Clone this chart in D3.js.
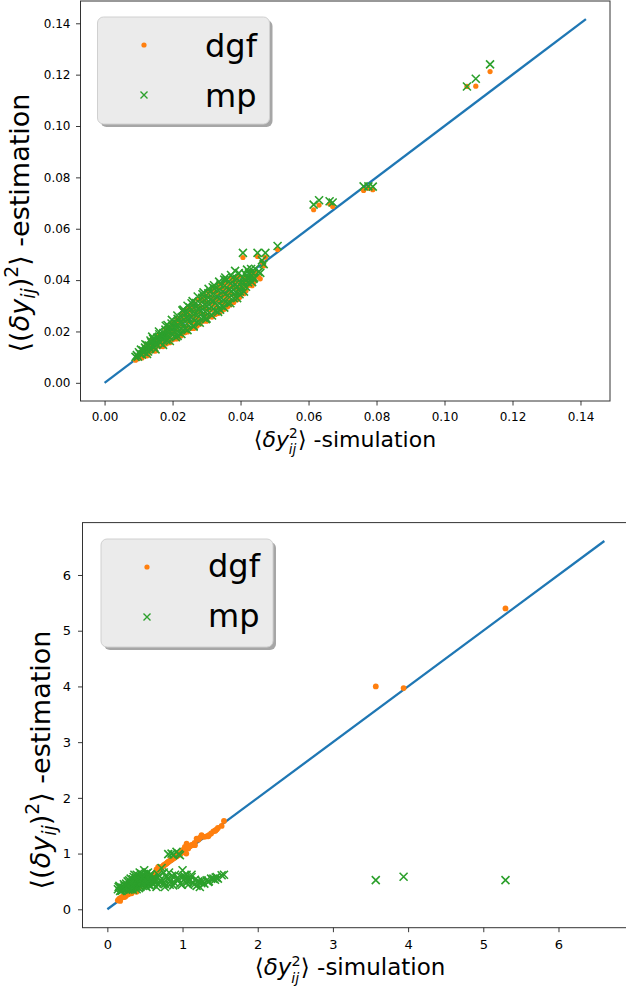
<!DOCTYPE html>
<html><head><meta charset="utf-8">
<script src="https://cdn.jsdelivr.net/npm/d3@7"></script>
<style>
body{margin:0;background:#fff}
svg{display:block}
text{font-family:"DejaVu Sans",sans-serif;fill:#000}
</style>
</head><body>
<svg id="c" width="626" height="987"></svg>
<script>
// ---------- top panel data (simulation, dgf estimate, mp estimate) ----------
const topSim = [
 0.0091,0.0095,0.0098,0.0101,0.0104,0.0107, 0.0110,0.0113,0.0116,0.0119,0.0122,0.0125,
 0.0128,0.0131,0.0134,0.0137,0.0140,0.0143, 0.0146,0.0149,0.0152,0.0155,0.0158,0.0161,
 0.0164,0.0167,0.0170,0.0173,0.0176,0.0179, 0.0182,0.0185,0.0188,0.0191,0.0194,0.0197,
 0.0200,0.0203,0.0206,0.0209,0.0212,0.0215, 0.0218,0.0221,0.0224,0.0227,0.0230,0.0233,
 0.0236,0.0239,0.0242,0.0245,0.0248,0.0251, 0.0254,0.0257,0.0260,0.0263,0.0266,0.0269,
 0.0272,0.0275,0.0278,0.0281,0.0284,0.0287, 0.0290,0.0293,0.0296,0.0299,0.0302,0.0305,
 0.0308,0.0311,0.0314,0.0317,0.0320,0.0323, 0.0326,0.0329,0.0332,0.0335,0.0338,0.0341,
 0.0344,0.0347,0.0350,0.0353,0.0356,0.0359, 0.0362,0.0365,0.0368,0.0371,0.0374,0.0377,
 0.0380,0.0383,0.0386,0.0389,0.0392,0.0395, 0.0398,0.0401,0.0404,0.0407,0.0410,0.0413,
 0.0416,0.0419,0.0422,0.0425,0.0428,0.0431, 0.0434,0.0437,0.0440,0.0443,
 0.0120,0.0140,0.0160,0.0180,0.0198,0.0214,0.0229,0.0244,0.0259,0.0274,0.0291,0.0306,0.0322,0.0337,0.0355,0.0372,
 0.0125,0.0150,0.0172,0.0192,0.0210,0.0226,0.0244,0.0262,0.0280,0.0298,0.0316,0.0334,0.0352,0.0370,0.0390,0.0410,
 0.0135,0.0185,0.0232,0.0256,0.0288,0.0318,0.0352,0.0384,0.0419,0.0458,0.0453,0.0215,0.0262,0.0300,0.0340,0.0397,0.0438,
 0.0407,0.0450,0.0463,0.0473,0.0468,0.0509,0.0615,0.0631,0.0662,0.0671,0.0762,0.0776,0.0789,0.1066,0.1092,0.1134
];
const topMp = [
 0.0101,0.0108,0.0102,0.0119,0.0113,0.0129, 0.0110,0.0126,0.0120,0.0137,0.0131,0.0147,
 0.0122,0.0145,0.0133,0.0158,0.0146,0.0171, 0.0138,0.0163,0.0151,0.0176,0.0164,0.0189,
 0.0156,0.0181,0.0169,0.0194,0.0182,0.0207, 0.0167,0.0199,0.0183,0.0215,0.0199,0.0231,
 0.0185,0.0217,0.0201,0.0233,0.0217,0.0249, 0.0197,0.0236,0.0212,0.0256,0.0232,0.0275,
 0.0211,0.0254,0.0230,0.0274,0.0250,0.0293, 0.0229,0.0272,0.0248,0.0292,0.0268,0.0311,
 0.0237,0.0287,0.0259,0.0309,0.0281,0.0331, 0.0255,0.0305,0.0277,0.0327,0.0299,0.0349,
 0.0273,0.0323,0.0295,0.0345,0.0317,0.0367, 0.0281,0.0336,0.0304,0.0360,0.0328,0.0383,
 0.0299,0.0354,0.0322,0.0378,0.0346,0.0401, 0.0312,0.0364,0.0334,0.0387,0.0357,0.0409,
 0.0330,0.0382,0.0352,0.0405,0.0375,0.0427, 0.0356,0.0391,0.0373,0.0408,0.0390,0.0425,
 0.0374,0.0409,0.0391,0.0426,0.0408,0.0443, 0.0392,0.0427,0.0409,0.0444,
 0.0150,0.0180,0.0200,0.0222,0.0245,0.0262,0.0282,0.0300,0.0318,0.0336,0.0352,0.0366,0.0380,0.0394,0.0410,0.0420,
 0.0112,0.0130,0.0148,0.0163,0.0178,0.0190,0.0205,0.0219,0.0234,0.0248,0.0262,0.0276,0.0293,0.0310,0.0330,0.0355,
 0.0165,0.0225,0.0285,0.0310,0.0345,0.0372,0.0402,0.0436,0.0441,0.0428,0.0432,0.0183,0.0222,0.0250,0.0285,0.0345,0.0405,
 0.0506,0.0506,0.0477,0.0506,0.0462,0.0533,0.0694,0.0711,0.0707,0.0702,0.0765,0.0765,0.0764,0.1154,0.1184,0.1240
];
const topDgf = [
 0.0088,0.0099,0.0094,0.0109,0.0104,0.0118, 0.0097,0.0116,0.0111,0.0127,0.0121,0.0136,
 0.0108,0.0135,0.0124,0.0147,0.0136,0.0160, 0.0124,0.0153,0.0142,0.0166,0.0155,0.0178,
 0.0141,0.0171,0.0159,0.0184,0.0172,0.0196, 0.0152,0.0189,0.0173,0.0204,0.0189,0.0220,
 0.0168,0.0206,0.0191,0.0222,0.0207,0.0238, 0.0179,0.0225,0.0201,0.0245,0.0221,0.0263,
 0.0195,0.0243,0.0219,0.0263,0.0239,0.0281, 0.0212,0.0261,0.0237,0.0281,0.0257,0.0299,
 0.0221,0.0276,0.0248,0.0297,0.0270,0.0319, 0.0240,0.0293,0.0266,0.0315,0.0287,0.0337,
 0.0257,0.0311,0.0284,0.0333,0.0305,0.0355, 0.0266,0.0324,0.0293,0.0348,0.0316,0.0370,
 0.0284,0.0342,0.0310,0.0366,0.0334,0.0388, 0.0296,0.0352,0.0322,0.0375,0.0345,0.0396,
 0.0313,0.0370,0.0340,0.0393,0.0363,0.0414, 0.0340,0.0379,0.0361,0.0396,0.0378,0.0413,
 0.0359,0.0397,0.0379,0.0414,0.0396,0.0431, 0.0378,0.0415,0.0397,0.0432,
 0.0140,0.0170,0.0189,0.0211,0.0233,0.0250,0.0270,0.0288,0.0306,0.0324,0.0340,0.0354,0.0368,0.0382,0.0398,0.0408,
 0.0105,0.0124,0.0141,0.0156,0.0171,0.0183,0.0198,0.0212,0.0228,0.0243,0.0256,0.0270,0.0286,0.0303,0.0323,0.0347,
 0.0152,0.0210,0.0270,0.0296,0.0331,0.0360,0.0389,0.0410,0.0409,0.0405,0.0412,0.0172,0.0212,0.0240,0.0275,0.0332,0.0387,
 0.0488,0.0492,0.0470,0.0489,0.0455,0.0519,0.0674,0.0692,0.0697,0.0687,0.0749,0.0758,0.0752,0.1154,0.1155,0.1212
];
const topLine = [0, 0.1416];
const topTicks = [0, 0.02, 0.04, 0.06, 0.08, 0.10, 0.12, 0.14];

// ---------- bottom panel data ----------
const botSim = [0.14,0.16,0.189,0.20,0.22,0.246,0.26,0.27,0.29,0.30,0.31,0.322,0.33,0.34,0.35,0.36,0.37,0.388,0.39,0.40,0.41,0.42,0.43,0.44,0.45,0.46,0.47,0.48,0.49,0.50,0.51,0.52,0.53,0.54,0.55,0.56,0.57,0.58,0.59,0.61,0.62,0.632,0.654,0.676,0.70,0.721,0.743,0.765,0.788,0.81,0.82,0.841,0.854,0.876,0.90,0.920,0.94,0.965,0.98,0.99,1.000,1.031,1.05,1.054,1.076,1.10,1.120,1.14,1.165,1.187,1.21,1.23,1.253,1.29,1.32,1.342,1.38,1.41,1.431,1.453,1.47,1.520,1.551,3.57,3.94,5.295,
 0.15,0.17,0.18,0.21,0.23,0.25,0.28,0.28,0.29,0.31,0.32,0.34,0.35,0.36,0.37,0.38,0.39,0.40,0.41,0.42,0.43,0.44,0.45,0.46,0.47,0.48,0.49,0.50,0.51,0.52,0.53,0.54,0.55,0.56,0.57,0.58,0.60,0.62,0.64,0.67,0.69,0.72,0.75,0.77,0.80,0.83,0.86,0.88,0.89,0.93,0.95,0.97,1.02,1.07,1.12,1.16,1.25,1.35,1.44];
const botDgf = [0.16,0.19,0.214,0.22,0.24,0.238,0.27,0.28,0.30,0.31,0.32,0.286,0.34,0.35,0.36,0.37,0.38,0.315,0.40,0.41,0.42,0.43,0.44,0.45,0.46,0.47,0.48,0.49,0.50,0.51,0.52,0.53,0.54,0.55,0.56,0.57,0.58,0.59,0.60,0.61,0.63,0.614,0.715,0.762,0.74,0.763,0.78,0.80,0.823,0.85,0.86,0.882,0.89,0.912,0.93,0.953,0.97,0.989,1.01,1.02,1.061,1.120,1.00,1.180,1.091,1.13,1.150,1.16,1.150,1.270,1.25,1.28,1.329,1.30,1.31,1.311,1.36,1.40,1.407,1.431,1.46,1.496,1.586,4.00,3.97,5.40,
 0.17,0.15,0.20,0.23,0.22,0.26,0.27,0.29,0.31,0.30,0.33,0.33,0.37,0.35,0.36,0.39,0.41,0.39,0.43,0.41,0.42,0.46,0.44,0.48,0.45,0.47,0.51,0.49,0.50,0.54,0.52,0.53,0.57,0.55,0.59,0.57,0.61,0.61,0.66,0.70,0.72,0.75,0.79,0.81,0.84,0.87,0.90,0.92,0.93,0.96,0.98,1.00,1.07,1.12,1.15,1.19,1.31,1.33,1.42];
const botMp = [0.36,0.42,0.33,0.39,0.45,0.36,0.41,0.50,0.38,0.45,0.55,0.40,0.48,0.35,0.58,0.44,0.52,0.40,0.62,0.47,0.55,0.38,0.66,0.50,0.58,0.43,0.62,0.52,0.70,0.46,0.60,0.40,0.55,0.66,0.48,0.58,0.42,0.63,0.52,0.45,0.57,0.50,0.40,0.62,0.52,0.74,0.47,0.40,0.58,0.99,0.66,0.51,1.00,0.43,0.62,1.03,0.53,0.97,0.58,0.44,0.70,0.55,0.48,0.62,0.44,0.52,0.58,0.47,0.53,0.42,0.50,0.40,0.52,0.46,0.52,0.49,0.55,0.55,0.53,0.58,0.55,0.61,0.62,0.524,0.583,0.524,
 0.40,0.33,0.38,0.35,0.42,0.46,0.35,0.43,0.52,0.36,0.47,0.54,0.40,0.62,0.47,0.56,0.36,0.52,0.60,0.44,0.53,0.40,0.64,0.51,0.56,0.45,0.60,0.53,0.42,0.64,0.49,0.58,0.44,0.53,0.62,0.48,0.56,0.50,0.55,0.45,0.60,0.50,0.66,0.46,0.55,0.44,0.60,0.98,0.48,0.56,0.99,0.46,0.60,0.50,0.62,0.45,0.47,0.50,0.57];
const botLine = [0, 6.61];
const botTicks = [0, 1, 2, 3, 4, 5, 6];

const seriesNames = ["dgf", "mp"];
const C_LINE = "#1f77b4", C_DGF = "#ff7f0e", C_MP = "#2ca02c";

const svg = d3.select("#c");
svg.append("rect").attr("width", 626).attr("height", 987).attr("fill", "#fff");

function xMarker(s) { return `M${-s},${-s}L${s},${s}M${-s},${s}L${s},${-s}`; }

function panel(o) {
  const x = d3.scaleLinear().domain(o.dom).range(o.xr);
  const y = d3.scaleLinear().domain(o.dom).range(o.yr);
  const g = svg.append("g");
  const clipId = "clip" + o.id;
  g.append("clipPath").attr("id", clipId).append("rect")
    .attr("x", o.xr[0]).attr("y", o.yr[1]).attr("width", o.xr[1] - o.xr[0]).attr("height", o.yr[0] - o.yr[1]);
  const pg = g.append("g").attr("clip-path", `url(#${clipId})`);

  pg.append("path").datum(o.line)
    .attr("d", d3.line().x(d => x(d)).y(d => y(d)))
    .attr("fill", "none").attr("stroke", C_LINE).attr("stroke-width", 2.3);

  const pts = o.sim.map((s, i) => ({ s, dgf: o.dgf[i], mp: o.mp[i] }));
  pg.append("g").selectAll("circle").data(pts).join("circle")
    .attr("cx", d => x(d.s)).attr("cy", d => y(d.dgf)).attr("r", o.dr).attr("fill", C_DGF);
  pg.append("g").selectAll("path").data(pts).join("path")
    .attr("d", xMarker(o.ms))
    .attr("transform", d => `translate(${x(d.s)},${y(d.mp)})`)
    .attr("fill", "none").attr("stroke", C_MP).attr("stroke-width", 1.6);

  const fr = g.append("g").attr("fill", "none").attr("stroke", "#333").attr("stroke-width", 1);
  fr.append("rect").attr("x", o.xr[0]).attr("y", o.yr[1]).attr("width", o.xr[1] - o.xr[0]).attr("height", o.yr[0] - o.yr[1]);

  const xa = g.append("g").attr("transform", `translate(0,${o.yr[0]})`)
    .call(d3.axisBottom(x).tickValues(o.ticks).tickFormat(o.fmt).tickSize(4.5).tickPadding(o.pad));
  const ya = g.append("g").attr("transform", `translate(${o.xr[0]},0)`)
    .call(d3.axisLeft(y).tickValues(o.ticks).tickFormat(o.fmt).tickSize(4.5).tickPadding(o.pad - 1));
  [xa, ya].forEach(a => {
    a.select(".domain").remove();
    a.selectAll("line").attr("stroke", "#222").attr("stroke-width", 0.9);
    a.selectAll("text").attr("font-size", o.tfs).attr("fill", "#111").style("font-family", "DejaVu Sans");
  });

  // x label: <δy_ij^2> -simulation (stacked sup/sub)
  const xs = o.xls;
  const xl = g.append("text").attr("x", o.xlx).attr("y", o.xly).attr("text-anchor", "middle").attr("font-size", xs);
  xl.append("tspan").text("⟨");
  xl.append("tspan").attr("font-style", "italic").text("δy");
  xl.append("tspan").attr("font-size", xs * 0.62).attr("dy", -xs * 0.40).text("2");
  xl.append("tspan").attr("font-style", "italic").attr("font-size", xs * 0.62).attr("dx", -xs * 0.40).attr("dy", xs * 0.74).text("ij");
  xl.append("tspan").attr("dx", xs * 0.07).attr("dy", -xs * 0.34).text("⟩ -simulation");

  // y label
  const ys = o.yls;
  const yl = g.append("text").attr("transform", `translate(${o.ylx},${o.yly}) rotate(-90)`)
    .attr("text-anchor", "middle").attr("font-size", ys);
  yl.append("tspan").text("⟨(");
  yl.append("tspan").attr("font-style", "italic").text("δy");
  yl.append("tspan").attr("font-style", "italic").attr("font-size", ys * 0.7).attr("dy", ys * 0.22).text("ij");
  yl.append("tspan").attr("dy", -ys * 0.22).text(")");
  yl.append("tspan").attr("font-size", ys * 0.7).attr("dy", -ys * 0.42).text("2");
  yl.append("tspan").attr("dy", ys * 0.42).text("⟩ -estimation");

  // legend
  const L = o.leg;
  const lg = g.append("g");
  lg.append("rect").attr("x", L.x + 3).attr("y", L.y + 3).attr("width", L.w).attr("height", L.h).attr("rx", 6)
    .attr("fill", "#a6a6a6");
  lg.append("rect").attr("x", L.x).attr("y", L.y).attr("width", L.w).attr("height", L.h).attr("rx", 6)
    .attr("fill", "#ebebeb").attr("stroke", "#d0d0d0").attr("stroke-width", 1);
  seriesNames.forEach((nm, i) => {
    const cy = L.y + L.r0 + i * L.dy;
    if (i === 0) lg.append("circle").attr("cx", L.mx).attr("cy", cy).attr("r", 2.6).attr("fill", C_DGF);
    else lg.append("path").attr("d", xMarker(3.5)).attr("transform", `translate(${L.mx},${cy})`)
      .attr("fill", "none").attr("stroke", C_MP).attr("stroke-width", 1.4);
    lg.append("text").attr("x", L.tx).attr("y", cy + L.base).attr("font-size", L.fs).text(nm);
  });
}

panel({
  id: "T", sim: topSim, dgf: topDgf, mp: topMp, line: topLine, ticks: topTicks,
  dom: [-0.00708, 0.14868], xr: [80.5, 610], yr: [401, 1],
  fmt: d3.format(".2f"), tfs: 12, pad: 6.5, ms: 4, dr: 2.6,
  xls: 22, xlx: 345, xly: 447,
  yls: 27, ylx: 29, yly: 223,
  leg: { x: 97.5, y: 17, w: 172, h: 107, r0: 28, dy: 50, mx: 144, tx: 205, base: 12, fs: 32 }
});

panel({
  id: "B", sim: botSim, dgf: botDgf, mp: botMp, line: botLine, ticks: botTicks,
  dom: [-0.3305, 6.9405], xr: [82.5, 629.2], yr: [927.7, 522.6],
  fmt: d3.format("d"), tfs: 13, pad: 8, ms: 4, dr: 2.9,
  xls: 23, xlx: 350, xly: 975,
  yls: 27, ylx: 50, yly: 760,
  leg: { x: 101, y: 539, w: 172, h: 108, r0: 28, dy: 50, mx: 147, tx: 208, base: 10, fs: 32 }
});
</script>
</body></html>
